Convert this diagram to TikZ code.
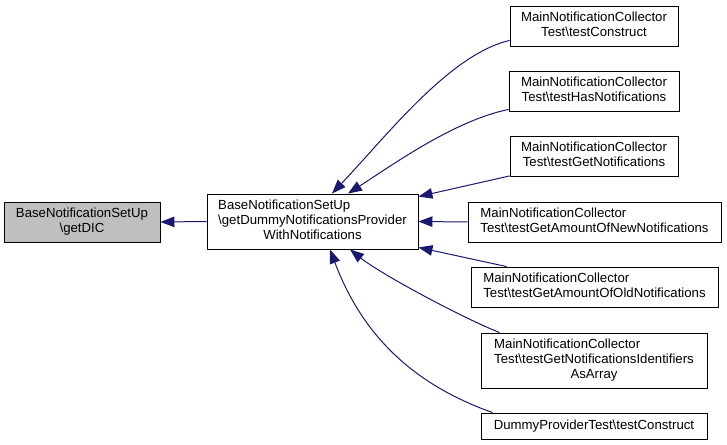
\documentclass[tikz,border=0pt]{standalone}
\usepackage{fontspec}
\setmainfont{Liberation Sans}
\usetikzlibrary{arrows.meta,calc}
\newcommand{\lastln}[1]{\multicolumn{1}{@{}c@{}}{#1}}
\newcommand{\bs}{\textbackslash}
\definecolor{mblue}{RGB}{25,25,112}
\definecolor{grey75}{RGB}{191,191,191}
\begin{document}
\begin{tikzpicture}[x=1bp,y=-1bp,
  box/.style={draw=black, line width=0.9bp, fill=white, inner sep=0pt,
    font=\fontsize{13.2bp}{15bp}\selectfont},
  cur/.style={box, fill=grey75},
  conn/.style={draw=mblue, line width=1bp, -{Triangle[length=14bp,width=10.5bp]}}]
\useasboundingbox (0,0) rectangle (727,445);
\fill[white] (0,0) rectangle (727,445);

\node[cur, minimum width=156bp, minimum height=40bp] (L) at (82,222)
  {\begin{tabular}{@{}l@{}}BaseNotificationSetUp\\\lastln{\bs getDIC}\end{tabular}};
\node[box, minimum width=211bp, minimum height=55bp] (M) at (312.5,221.5)
  {\begin{tabular}{@{}l@{}}BaseNotificationSetUp\\\bs getDummyNotificationsProvider\\\lastln{WithNotifications}\end{tabular}};

\node[box, minimum width=168bp, minimum height=40bp] (R1) at (594,26)
  {\begin{tabular}{@{}l@{}}MainNotificationCollector\\\lastln{Test\bs testConstruct}\end{tabular}};
\node[box, minimum width=170bp, minimum height=40bp] (R2) at (594,91)
  {\begin{tabular}{@{}l@{}}MainNotificationCollector\\\lastln{Test\bs testHasNotifications}\end{tabular}};
\node[box, minimum width=168bp, minimum height=40bp] (R3) at (594,156)
  {\begin{tabular}{@{}l@{}}MainNotificationCollector\\\lastln{Test\bs testGetNotifications}\end{tabular}};
\node[box, minimum width=253bp, minimum height=40bp] (R4) at (594.5,222)
  {\begin{tabular}{@{}l@{}}MainNotificationCollector\\\lastln{Test\bs testGetAmountOfNewNotifications}\end{tabular}};
\node[box, minimum width=247bp, minimum height=40bp] (R5) at (594.5,287)
  {\begin{tabular}{@{}l@{}}MainNotificationCollector\\\lastln{Test\bs testGetAmountOfOldNotifications}\end{tabular}};
\node[box, minimum width=226bp, minimum height=55bp] (R6) at (594,360.5)
  {\begin{tabular}{@{}l@{}}MainNotificationCollector\\Test\bs testGetNotificationsIdentifiers\\\lastln{AsArray}\end{tabular}};
\node[box, minimum width=226bp, minimum height=26bp] (R7) at (594,426)
  {DummyProviderTest\bs testConstruct};

\draw[conn] (M.west) -- (L.east);
\draw[conn] ($(R1.south west)+(0,-6)$) .. controls +(-60,14) and +(55,-58) .. ($(M.north)+(19.5,0)$);
\draw[conn] ($(R2.south west)+(0,-2)$) .. controls +(-54,11) and +(45,-29) .. ($(M.north)+(35.5,0)$);
\draw[conn] ($(R3.south west)+(0,-0.5)$) -- ($(M.north east)+(0,3)$);
\draw[conn] (R4.west) -- (M.east);
\draw[conn] ($(R5.north west)+(36,0)$) -- ($(M.south east)+(0,-2)$);
\draw[conn] ($(R6.north west)+(19,0)$) .. controls +(-40,-16) and +(30,24) .. ($(M.south)+(37.5,0)$);
\draw[conn] ($(R7.north west)+(12,0)$) .. controls +(-85,-30) and +(30,80) .. ($(M.south)+(17.5,0)$);
\end{tikzpicture}
\end{document}
